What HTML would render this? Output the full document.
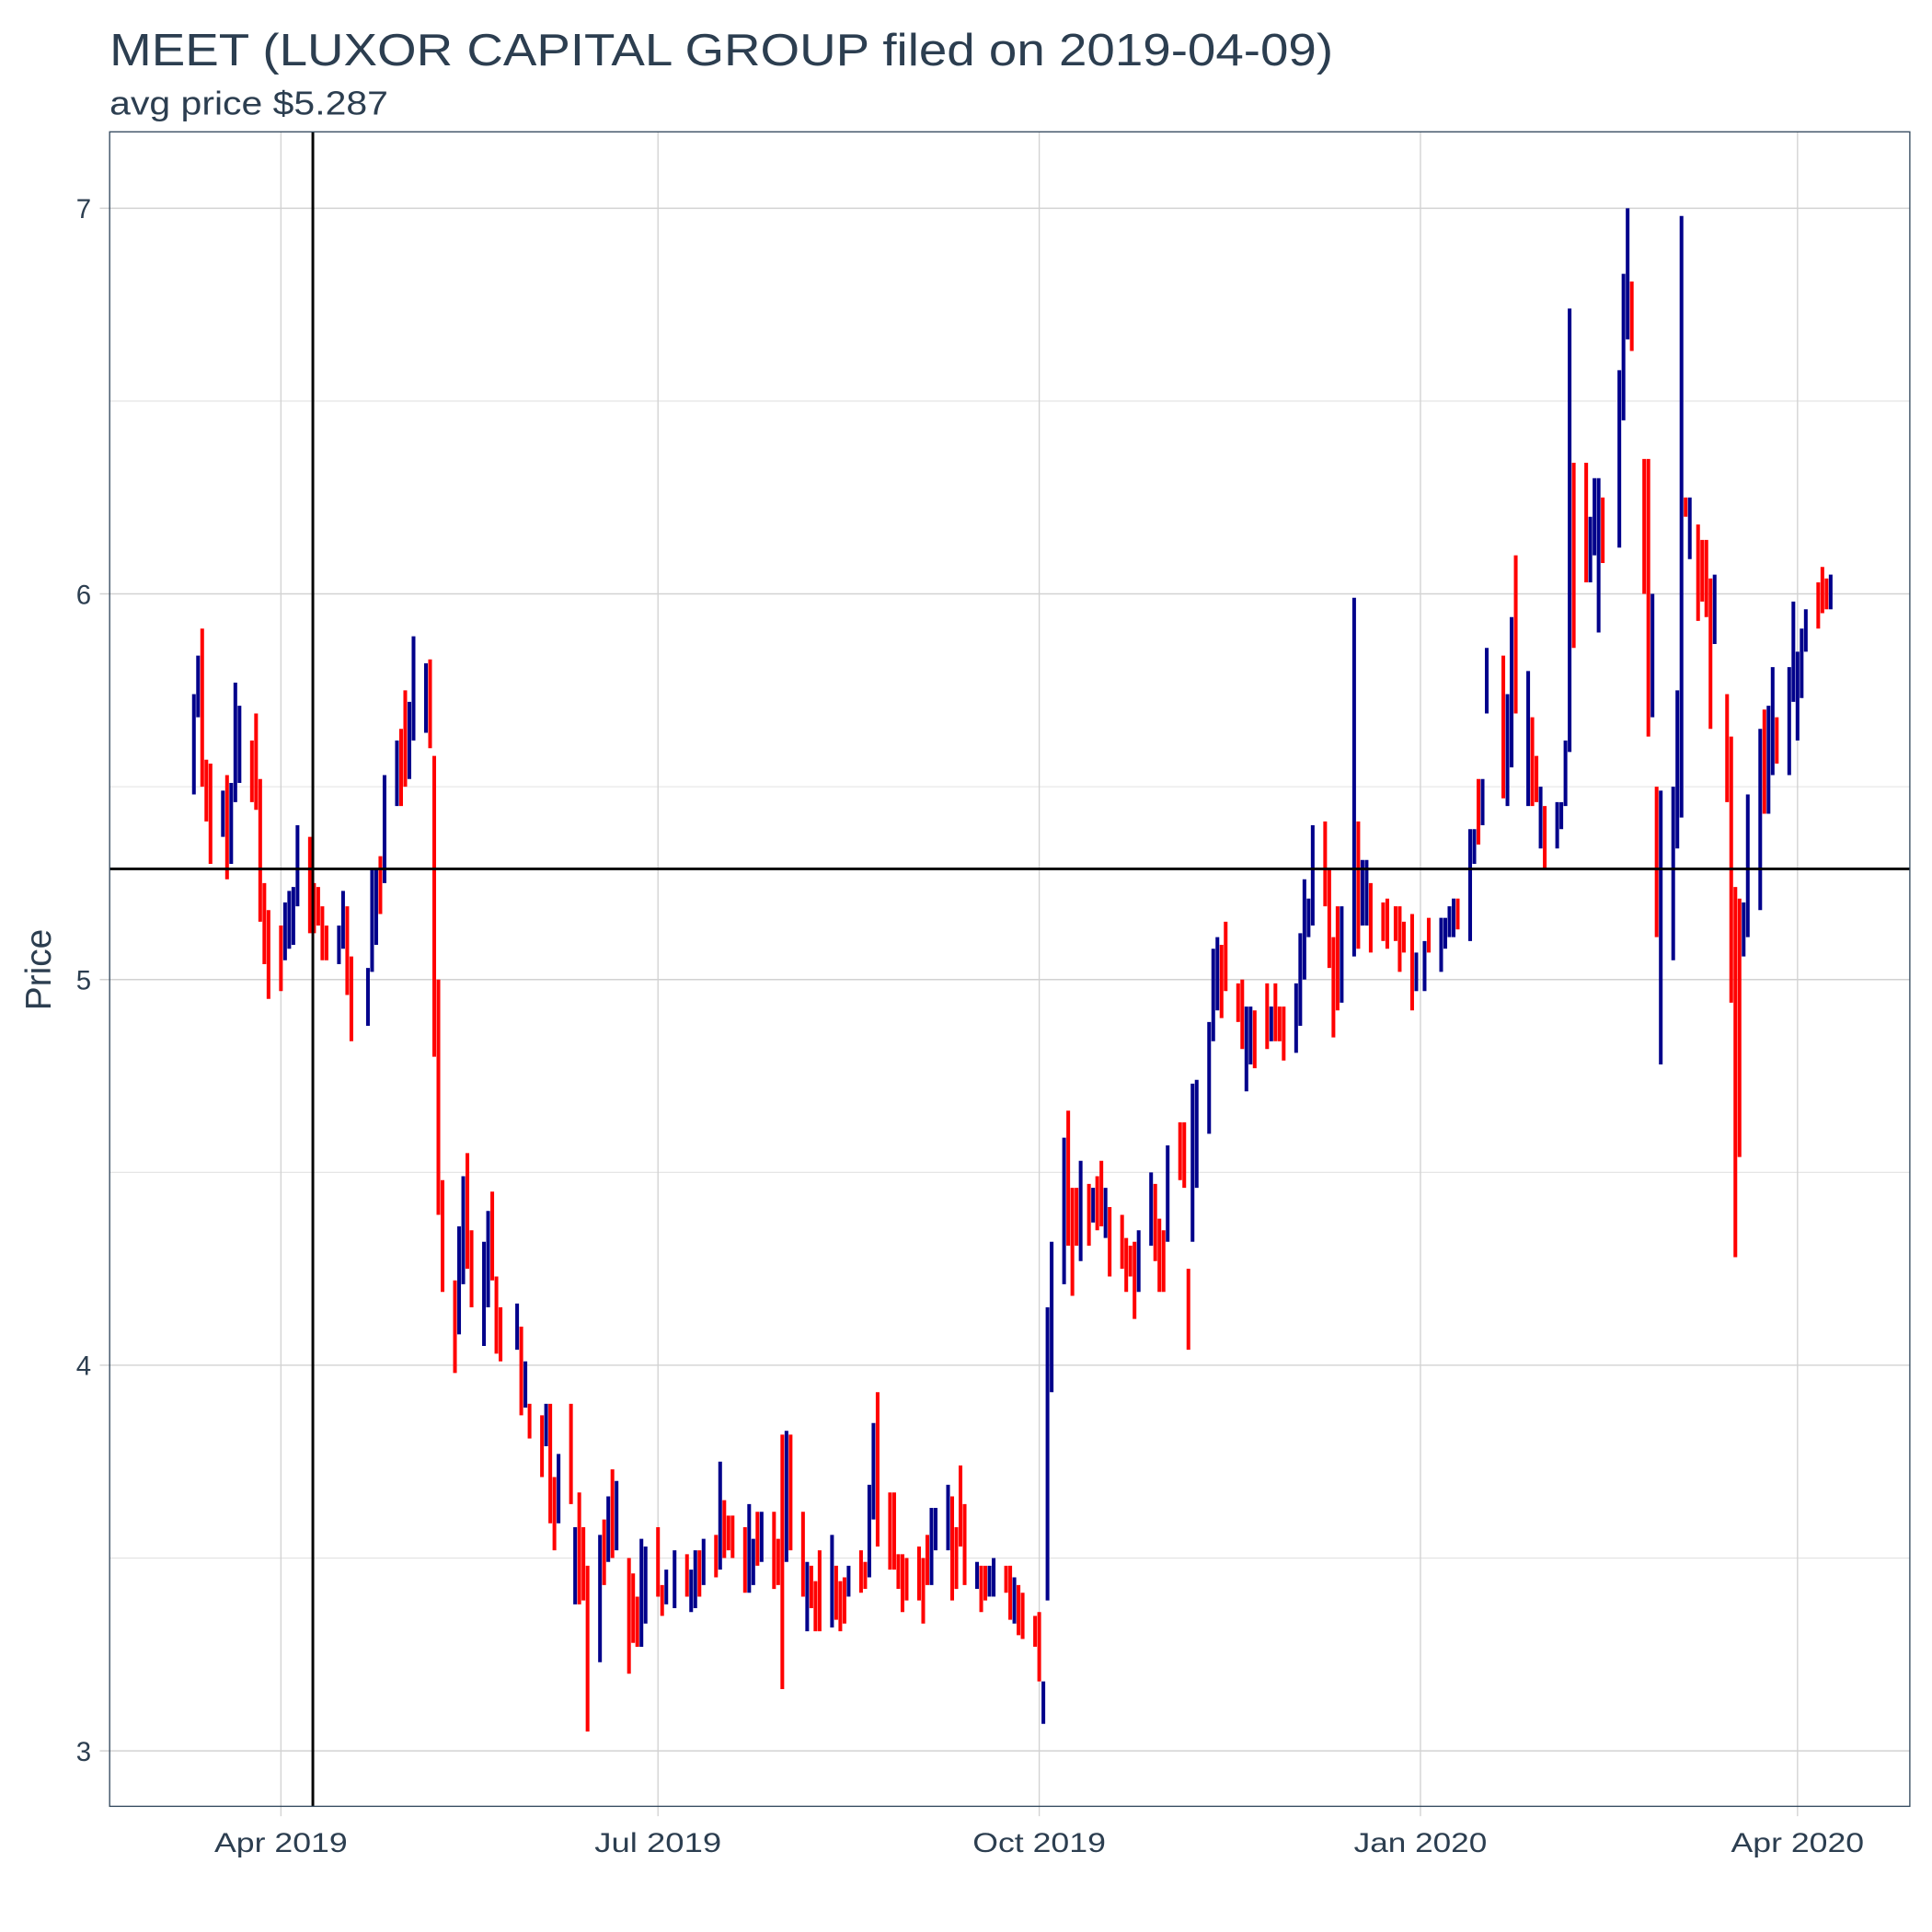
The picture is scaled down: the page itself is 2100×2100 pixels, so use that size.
<!DOCTYPE html>
<html><head><meta charset="utf-8"><title>MEET chart</title>
<style>html,body{margin:0;padding:0;background:#fff}svg{display:block}text{font-family:"Liberation Sans",Arial,sans-serif;fill:#2c3e50}</style>
</head><body>
<svg id="chart" width="2100" height="2100" viewBox="0 0 1568 1568" xmlns="http://www.w3.org/2000/svg">
<rect width="1568" height="1568" fill="#fff"/>
<text x="89" y="53" font-size="37" textLength="993" lengthAdjust="spacingAndGlyphs">MEET (LUXOR CAPITAL GROUP filed on 2019-04-09)</text>
<text x="89" y="93" font-size="27" textLength="226" lengthAdjust="spacingAndGlyphs">avg price $5.287</text>
<text transform="translate(41,787) rotate(-90)" text-anchor="middle" font-size="29">Price</text>
<g id="grid"></g>
<g id="bars"></g>
<g id="refs"></g>
<rect x="89" y="107" width="1461" height="1359" fill="none" stroke="#34495e" stroke-width="1"/>
<g id="axes"></g>
</svg>
<script>
const days=[-21,-20,-19,-18,-17,-14,-13,-12,-11,-10,-7,-6,-5,-4,-3,0,1,2,3,4,7,8,9,10,11,14,15,16,17,21,22,23,24,25,28,29,30,31,32,35,36,37,38,39,42,43,44,45,46,49,50,51,52,53,57,58,59,60,63,64,65,66,67,70,71,72,73,74,77,78,79,80,81,84,85,86,87,88,91,92,93,95,98,99,100,101,102,105,106,107,108,109,112,113,114,115,116,119,120,121,122,123,126,127,128,129,130,133,134,135,136,137,140,141,142,143,144,147,148,149,150,151,154,155,156,157,158,161,162,163,164,165,168,169,170,171,172,175,176,177,178,179,182,183,184,185,186,189,190,191,192,193,195,196,197,198,199,200,203,204,205,206,207,210,211,212,213,214,217,218,219,220,221,224,225,226,227,228,231,232,233,234,235,238,239,240,241,242,245,246,247,248,249,252,253,254,255,256,259,260,261,262,263,266,267,269,270,271,273,274,276,277,280,281,282,283,284,287,288,289,290,291,295,296,297,298,301,302,303,304,305,308,309,310,311,312,315,316,317,318,319,323,324,325,326,329,330,331,332,333,336,337,338,339,340,342,343,344,345,346,349,350,351,352,353,354,357,358,359,360,361,364,365,366,367,368,371,372,373,374];
const highs=[5.74,5.84,5.91,5.57,5.56,5.49,5.53,5.51,5.77,5.71,5.62,5.69,5.52,5.25,5.18,5.14,5.20,5.23,5.24,5.40,5.37,5.25,5.24,5.19,5.14,5.14,5.23,5.19,5.06,5.03,5.29,5.29,5.32,5.53,5.62,5.65,5.75,5.72,5.89,5.82,5.83,5.58,5.00,4.48,4.22,4.36,4.49,4.55,4.35,4.32,4.40,4.45,4.23,4.15,4.16,4.10,4.01,3.90,3.87,3.90,3.90,3.71,3.77,3.90,3.58,3.67,3.58,3.48,3.56,3.60,3.66,3.73,3.70,3.50,3.46,3.40,3.55,3.53,3.58,3.43,3.47,3.52,3.51,3.47,3.52,3.52,3.55,3.56,3.75,3.65,3.61,3.61,3.58,3.64,3.55,3.62,3.62,3.62,3.55,3.82,3.83,3.82,3.62,3.49,3.48,3.44,3.52,3.56,3.48,3.44,3.45,3.48,3.52,3.49,3.69,3.85,3.93,3.67,3.67,3.51,3.51,3.50,3.53,3.50,3.56,3.63,3.63,3.69,3.66,3.58,3.74,3.64,3.49,3.48,3.48,3.48,3.50,3.48,3.48,3.45,3.43,3.41,3.35,3.36,3.18,4.15,4.32,4.59,4.66,4.46,4.46,4.53,4.47,4.46,4.49,4.53,4.46,4.41,4.39,4.33,4.31,4.32,4.35,4.50,4.47,4.38,4.35,4.57,4.63,4.63,4.25,4.73,4.74,4.89,5.08,5.11,5.09,5.15,4.99,5.00,4.93,4.93,4.92,4.99,4.93,4.99,4.93,4.93,4.99,5.12,5.26,5.21,5.40,5.41,5.29,5.11,5.19,5.19,5.99,5.41,5.31,5.31,5.25,5.20,5.21,5.19,5.19,5.15,5.17,5.07,5.10,5.16,5.16,5.16,5.19,5.21,5.21,5.39,5.39,5.52,5.52,5.86,5.84,5.74,5.94,6.10,5.80,5.68,5.58,5.50,5.45,5.46,5.46,5.62,6.74,6.34,6.34,6.20,6.30,6.30,6.25,6.58,6.83,7.00,6.81,6.35,6.35,6.00,5.50,5.49,5.50,5.75,6.98,6.25,6.25,6.18,6.14,6.14,6.04,6.05,5.74,5.63,5.24,5.21,5.20,5.48,5.65,5.70,5.71,5.81,5.68,5.81,5.98,5.85,5.91,5.96,6.03,6.07,6.04,6.05];
const lows=[5.48,5.68,5.50,5.41,5.30,5.37,5.26,5.30,5.46,5.51,5.46,5.44,5.15,5.04,4.95,4.97,5.05,5.08,5.09,5.19,5.12,5.12,5.14,5.05,5.05,5.04,5.08,4.96,4.84,4.88,5.02,5.09,5.17,5.25,5.45,5.45,5.50,5.52,5.62,5.64,5.60,4.80,4.39,4.19,3.98,4.08,4.21,4.25,4.15,4.05,4.15,4.22,4.03,4.01,4.04,3.87,3.89,3.81,3.71,3.79,3.59,3.52,3.59,3.64,3.38,3.38,3.39,3.05,3.23,3.43,3.49,3.50,3.52,3.20,3.28,3.27,3.27,3.33,3.40,3.35,3.38,3.37,3.40,3.36,3.37,3.40,3.43,3.45,3.47,3.50,3.52,3.50,3.41,3.41,3.43,3.48,3.49,3.42,3.43,3.16,3.49,3.52,3.40,3.31,3.37,3.31,3.31,3.32,3.34,3.31,3.33,3.40,3.41,3.42,3.45,3.60,3.53,3.47,3.47,3.42,3.36,3.39,3.39,3.33,3.43,3.43,3.52,3.52,3.39,3.42,3.53,3.43,3.42,3.36,3.39,3.40,3.40,3.41,3.34,3.33,3.30,3.29,3.27,3.18,3.07,3.39,3.93,4.21,4.31,4.18,4.31,4.27,4.31,4.37,4.35,4.36,4.33,4.23,4.25,4.19,4.23,4.12,4.19,4.31,4.27,4.19,4.19,4.32,4.48,4.46,4.04,4.32,4.46,4.60,4.84,4.92,4.90,4.97,4.89,4.82,4.71,4.78,4.77,4.82,4.84,4.84,4.84,4.79,4.81,4.88,5.00,5.11,5.14,5.19,5.03,4.85,4.92,4.94,5.06,5.08,5.14,5.14,5.07,5.10,5.08,5.10,5.02,5.07,4.92,4.97,4.97,5.07,5.02,5.08,5.11,5.11,5.13,5.10,5.30,5.35,5.40,5.69,5.47,5.45,5.55,5.69,5.45,5.45,5.46,5.34,5.29,5.34,5.39,5.45,5.59,5.86,6.03,6.03,6.10,5.90,6.08,6.12,6.45,6.66,6.63,6.00,5.63,5.68,5.11,4.78,5.05,5.34,5.42,6.20,6.09,5.93,5.98,5.94,5.65,5.87,5.46,4.94,4.28,4.54,5.06,5.11,5.18,5.43,5.43,5.53,5.56,5.53,5.72,5.62,5.73,5.85,5.91,5.95,5.96,5.96];
const upDays=[1,1,0,0,0,1,0,1,1,1,0,0,0,0,0,0,1,1,1,1,0,0,0,0,0,1,1,0,0,1,1,1,0,1,1,0,0,1,1,1,0,0,0,0,0,1,1,0,0,1,1,0,0,0,1,0,1,0,0,1,0,0,1,0,1,0,0,0,1,0,1,0,1,0,0,0,1,1,0,0,1,1,0,1,1,0,1,0,1,0,0,0,0,1,1,0,1,0,0,0,1,0,0,1,0,0,0,1,0,0,0,1,0,0,1,1,0,0,0,0,0,0,0,0,0,1,1,1,0,0,0,0,1,0,0,1,1,0,0,1,0,0,0,0,1,1,1,1,0,0,0,1,0,1,0,0,1,0,0,0,0,0,1,1,0,0,0,1,0,0,0,1,1,1,1,1,0,0,0,0,1,1,0,0,1,0,0,0,1,1,1,1,1,0,0,0,0,1,1,0,1,1,0,0,0,0,0,0,0,1,1,0,1,1,1,1,0,1,1,0,1,1,0,1,1,0,1,0,0,1,0,1,1,1,1,0,0,1,1,1,0,1,1,1,0,0,0,1,0,1,1,1,1,0,1,0,0,0,0,1,0,0,0,0,1,1,1,0,1,1,0,1,1,1,1,1,0,0,0,1];
const yTicks=[3,4,5,6,7];
const yMinor=[3.5,4.5,5.5,6.5];
const xTickDays=[0,91,183,275,366];
const xTickLabels=["Apr 2019","Jul 2019","Oct 2019","Jan 2020","Apr 2020"];
const avgPrice=5.287;
const filingDay=8;

const NS="http://www.w3.org/2000/svg";
const X0=228, PXD=3.363, Y7=169, PPU=313;
function xs(d){return X0+d*PXD;}
function ys(v){return Y7+(7-v)*PPU;}
function mk(tag,attrs,parent){const e=document.createElementNS(NS,tag);for(const k in attrs)e.setAttribute(k,attrs[k]);parent.appendChild(e);return e;}
const grid=document.getElementById('grid'),bars=document.getElementById('bars'),refs=document.getElementById('refs'),axes=document.getElementById('axes');
yMinor.forEach(v=>{const l=mk('line',{x1:89,x2:1550,y1:ys(v),y2:ys(v),stroke:'#e2e2e2','stroke-width':0.8},grid);

});
yTicks.forEach(v=>{const l=mk('line',{x1:81,x2:1550,y1:ys(v),y2:ys(v),stroke:'#d2d2d2','stroke-width':1.1},grid);


const t=mk('text',{x:74,y:ys(v)+8,'text-anchor':'end','font-size':22},axes);t.textContent=v;

});
xTickDays.forEach((d,i)=>{const l=mk('line',{x1:xs(d),x2:xs(d),y1:107,y2:1474,stroke:'#d2d2d2','stroke-width':1},grid);


const t=mk('text',{x:xs(d),y:1503,'text-anchor':'middle','font-size':22,textLength:108,lengthAdjust:'spacingAndGlyphs'},axes);t.textContent=xTickLabels[i];
if(i==1){t.setAttribute('textLength',103);}

});
days.forEach((d,i)=>{const l=mk('line',{x1:xs(d),x2:xs(d),y1:ys(highs[i]),y2:ys(lows[i]),stroke:upDays[i]?'#00008b':'#ff0000','stroke-width':3},bars);

});
const h=mk('line',{x1:89,x2:1550,y1:ys(avgPrice),y2:ys(avgPrice),stroke:'#000','stroke-width':2.2},refs);


const v=mk('line',{x1:xs(filingDay)-1,x2:xs(filingDay)-1,y1:107,y2:1466,stroke:'#000','stroke-width':2.2},refs);


</script>
</body></html>
